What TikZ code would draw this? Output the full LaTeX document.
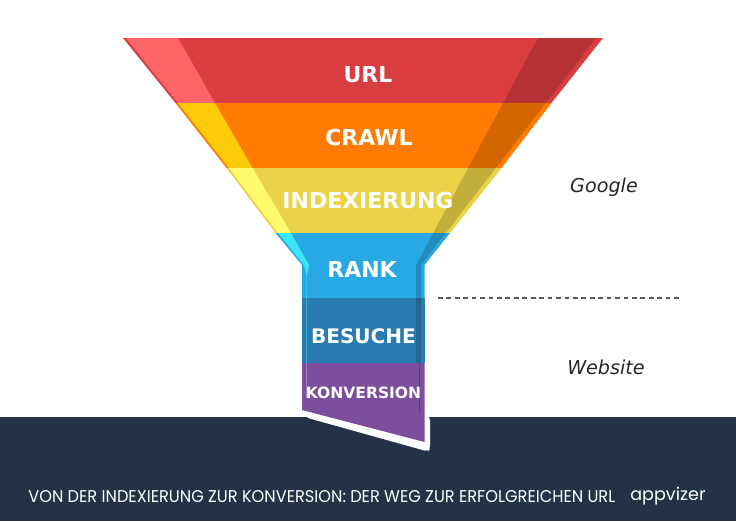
\documentclass[tikz,border=0pt]{standalone}
\usepackage{fontspec}
\setmainfont{DejaVu Sans}
\newfontfamily\popfont[FakeStretch=.95]{Poppins}
\newfontfamily\brandfont{Poppins}
\definecolor{urlred}{HTML}{D93D3F}
\definecolor{crawlorange}{HTML}{FF7B03}
\definecolor{indexyellow}{HTML}{EAD348}
\definecolor{rankblue}{HTML}{29A9E3}
\definecolor{visitblue}{HTML}{2A7CB0}
\definecolor{convpurple}{HTML}{7D4E9E}
\definecolor{footnavy}{HTML}{243147}
\definecolor{lightred}{HTML}{FF6468}
\definecolor{lightorange}{HTML}{FFCC0A}
\definecolor{lightyellow}{HTML}{FFF96E}
\definecolor{lightblue}{HTML}{3CE6FF}
\tikzset{
  bandlabel/.style={text=white,font=\bfseries\fontsize{12.5}{15}\selectfont},
  sidelabel/.style={text=black!85,font=\itshape\fontsize{10.9}{13}\selectfont}
}
\begin{document}
\begin{tikzpicture}[x=0.02cm,y=-0.02cm]
  \useasboundingbox (0,0) rectangle (736,521);
  \fill[footnavy] (0,417) rectangle (736,521);
  % white edge round the tip
  \fill[white,rounded corners=2pt] (302,410) -- (306,417.5) -- (428,451.5) -- (430,449) -- (430,417) -- (420,410) -- cycle;
  % bands
  \fill[urlred] (123,38) -- (603,38) -- (551.5,103) -- (175.5,103) -- cycle;
  \fill[crawlorange] (175.5,103) -- (551.5,103) -- (501.5,168) -- (226.5,168) -- cycle;
  \fill[indexyellow] (226.5,168) -- (501.5,168) -- (450,233) -- (275.5,233) -- cycle;
  \fill[rankblue] (275.5,233) -- (450,233) -- (424.5,265) -- (424.5,298) -- (302,298) -- (302,265) -- cycle;
  \fill[visitblue] (302,298) rectangle (424.5,363);
  \fill[convpurple] (302,363) -- (424.5,363) -- (424.5,442) -- (302,410) -- cycle;
  % light side
  \fill[lightred] (126,38) -- (178,38) -- (215,103) -- (178,103) -- cycle;
  \fill[lightorange] (178,103) -- (215,103) -- (252.5,168) -- (229,168) -- cycle;
  \fill[lightyellow] (229,168) -- (252.5,168) -- (291,233) -- (278,233) -- cycle;
  \fill[lightblue] (278,233) -- (291,233) -- (309,265) -- (307,275) -- (304,265) -- cycle;
  \fill[lightblue,opacity=.45] (305.5,268) rectangle (307,363);
  \fill[white,opacity=.3] (305.5,363) rectangle (307,398);
  % dark side
  \fill[black,opacity=.17] (538,38) -- (596,38) -- (421,265) -- (421,363) -- (416,363) -- (416,265) -- cycle;
  \fill[black,opacity=.25] (418.5,363) rectangle (419.5,412);
  % labels
  \node[bandlabel] (url) at (368,75) {URL};
  \node[bandlabel] (crawl) at (369,138) {CRAWL};
  \node[bandlabel] (index) at (368,200) {INDEXIERUNG};
  \node[bandlabel,font=\bfseries\fontsize{11.4}{14}\selectfont] (visit) at (363.5,336) {BESUCHE};
  \node[bandlabel] (rank) at (362,269) {RANK};
  \node[bandlabel,font=\bfseries\fontsize{8.85}{11}\selectfont] (conv) at (363.5,393) {KONVERSION};
  \node[sidelabel] (google) at (604,187) {Google};
  \node[sidelabel] (website) at (606,367) {Website};
  \coordinate (dashstart) at (438,298);
  \coordinate (dashend) at (679,298);
  \draw[black!65,dash pattern=on 2.7pt off 2.1pt,line width=.7pt] (dashstart) -- (dashend);
  \node[anchor=west,inner sep=0pt,text=white,font=\popfont\fontsize{9.7}{12}\selectfont] (title) at (28,497) {VON DER INDEXIERUNG ZUR KONVERSION: DER WEG ZUR ERFOLGREICHEN URL};
  \node[anchor=west,inner sep=0pt,text=white,font=\brandfont\fontsize{10}{12}\selectfont] (brand) at (630,496) {appvizer};
\end{tikzpicture}
\end{document}
